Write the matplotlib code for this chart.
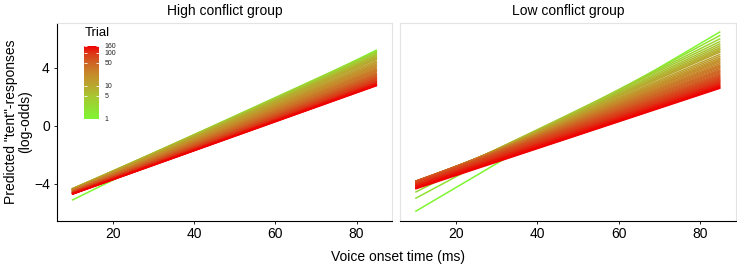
import numpy as np
import matplotlib
matplotlib.use('Agg')
import matplotlib.pyplot as plt
from matplotlib.colors import LinearSegmentedColormap, LogNorm
from matplotlib.cm import ScalarMappable

plt.rcParams['font.family'] = ['Liberation Sans', 'DejaVu Sans']

# 数据：每个 trial 一条预测线，读取 VOT=10 和 VOT=85 两端的值
vot_ends = [10, 85]
trials = [1, 2, 3, 4, 5, 6, 7, 8, 9, 10, 12, 14, 16, 18, 20, 22, 25, 28, 30, 33,
          36, 40, 43, 46, 50, 55, 60, 65, 70, 75, 80, 85, 90, 95, 100, 108, 115,
          122, 130, 138, 145, 152, 160]

high_start = [-5.15, -4.50, -4.43, -4.40, -4.38, -4.37, -4.37, -4.37, -4.38, -4.38,
              -4.39, -4.40, -4.41, -4.42, -4.43, -4.44, -4.46, -4.47, -4.48, -4.49,
              -4.50, -4.52, -4.53, -4.54, -4.55, -4.57, -4.58, -4.60, -4.61, -4.62,
              -4.63, -4.64, -4.65, -4.66, -4.67, -4.68, -4.69, -4.70, -4.71, -4.72,
              -4.73, -4.735, -4.74]
high_end = [5.24, 5.17, 5.09, 5.01, 4.93, 4.86, 4.79, 4.72, 4.66, 4.60,
            4.49, 4.39, 4.30, 4.22, 4.15, 4.09, 4.00, 3.92, 3.86, 3.80,
            3.74, 3.65, 3.60, 3.55, 3.50, 3.44, 3.38, 3.33, 3.28, 3.23,
            3.19, 3.15, 3.11, 3.07, 3.04, 3.00, 2.96, 2.93, 2.89, 2.86,
            2.83, 2.80, 2.78]

low_start = [-5.93, -5.03, -4.60, -4.34, -4.29, -4.24, -4.20, -4.17, -4.14, -4.11,
             -4.07, -4.03, -4.00, -3.97, -3.95, -3.93, -3.91, -3.89, -3.88, -3.87,
             -3.86, -3.85, -3.845, -3.84, -3.84, -3.85, -3.86, -3.88, -3.90, -3.92,
             -3.95, -3.97, -4.00, -4.03, -4.06, -4.10, -4.14, -4.18, -4.22, -4.26,
             -4.30, -4.33, -4.37]
low_end = [6.50, 6.25, 6.02, 5.83, 5.67, 5.53, 5.40, 5.29, 5.19, 5.10,
           4.94, 4.81, 4.69, 4.59, 4.50, 4.42, 4.31, 4.21, 4.14, 4.06,
           3.97, 3.87, 3.81, 3.74, 3.67, 3.58, 3.50, 3.43, 3.36, 3.30,
           3.24, 3.18, 3.13, 3.08, 3.03, 2.97, 2.91, 2.85, 2.79, 2.74,
           2.69, 2.64, 2.60]

panel_titles = ['High conflict group', 'Low conflict group']
cbar_ticks = [1, 5, 10, 50, 100, 160]

# 颜色：绿 -> 橄榄 -> 橙褐 -> 红（按参考图取色）
cmap = LinearSegmentedColormap.from_list('trial', [
    (0.00, '#80F532'),
    (0.30, '#A6C832'),
    (0.45, '#B8A82E'),
    (0.62, '#C68A2A'),
    (0.77, '#CF6424'),
    (0.90, '#DC3818'),
    (1.00, '#F00000'),
])
norm = LogNorm(vmin=1, vmax=160)

# 画布：737x264 像素
W, H = 737, 264
fig = plt.figure(figsize=(W / 100, H / 100), dpi=100)


def px_axes(x0, y0, x1, y1):
    return fig.add_axes([x0 / W, 1 - y1 / H, (x1 - x0) / W, (y1 - y0) / H])


ax_left = px_axes(56.7, 22.7, 392.2, 220.5)
ax_right = px_axes(400, 22.7, 735.6, 220.5)

panels = [(ax_left, high_start, high_end), (ax_right, low_start, low_end)]
for i, (ax, starts, ends) in enumerate(panels):
    for t, y0, y1 in zip(trials, starts, ends):
        ax.plot(vot_ends, [y0, y1], color=cmap(norm(t)), lw=1.1, solid_capstyle='butt')
    ax.set_xlim(6.25, 88.75)
    ax.set_ylim(-6.55, 7.12)
    ax.set_xticks([20, 40, 60, 80])
    ax.set_yticks([-4, 0, 4])
    ax.tick_params(labelsize=10, length=2.5, width=0.6, pad=2.5, colors='black')
    for side in ['top', 'right']:
        ax.spines[side].set_color('#E3E3E3')
        ax.spines[side].set_linewidth(0.8)
    ax.spines['bottom'].set_color('black')
    ax.spines['bottom'].set_linewidth(0.8)
    if i == 0:
        ax.spines['left'].set_color('black')
        ax.spines['left'].set_linewidth(0.8)
    else:
        ax.spines['left'].set_color('#E3E3E3')
        ax.spines['left'].set_linewidth(0.8)
        ax.tick_params(axis='y', left=False, labelleft=False)
    pos = ax.get_position()
    fig.text(pos.x0 + pos.width / 2, 1 - 10.7 / H, panel_titles[i],
             ha='center', va='center', fontsize=10)

# 坐标轴标题
fig.text(397.5 / W, 1 - 256.5 / H, 'Voice onset time (ms)', ha='center', va='center', fontsize=10)
fig.text(18 / W, 1 - 121.6 / H, 'Predicted "tent"-responses\n(log-odds)', rotation=90,
         ha='center', va='center', fontsize=10, multialignment='center', linespacing=1.05)

# 图例（颜色条放在左图里面）
cax = px_axes(84, 46, 99, 119)
cb = fig.colorbar(ScalarMappable(norm=norm, cmap=cmap), cax=cax)
cb.outline.set_visible(False)
cax.minorticks_off()
cb.set_ticks(cbar_ticks)
cb.set_ticklabels([str(v) for v in cbar_ticks])
cax.yaxis.set_ticks_position('both')
cax.tick_params(which='both', direction='in', color='white', length=2.5, width=0.6,
                labelsize=5, pad=4, labelcolor='#222222', labelleft=False, labelright=True)
fig.text(85 / W, 1 - 33 / H, 'Trial', ha='left', va='center', fontsize=9.5)

fig.savefig('out.png', dpi=100)
